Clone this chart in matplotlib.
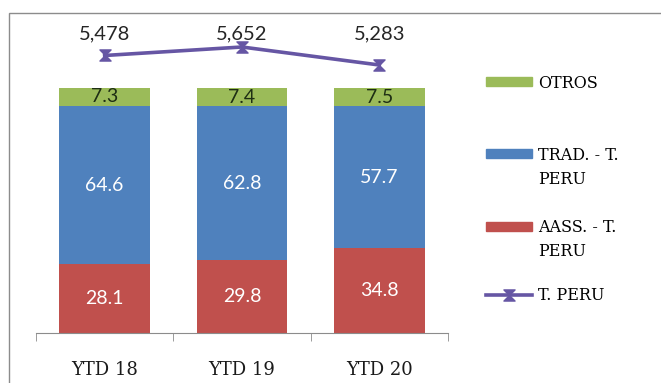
import matplotlib.pyplot as plt
import numpy as np
from matplotlib.patches import Patch, Rectangle
from matplotlib.lines import Line2D
from matplotlib.path import Path

categories = ["YTD 18", "YTD 19", "YTD 20"]
aass = [28.1, 29.8, 34.8]     # AASS. - T. PERU (%)
trad = [64.6, 62.8, 57.7]     # TRAD. - T. PERU (%)
otros = [7.3, 7.4, 7.5]       # OTROS (%)
total = [5478, 5652, 5283]    # T. PERU

green = "#9BBB59"
blue = "#4F81BD"
red = "#C0504D"
purple = "#6656A4"

serif = "DejaVu Serif"
sans = "Lato"

# hourglass marker for the total line
hourglass = Path([(-1, 1), (1, 1), (-1, -1), (1, -1), (-1, 1)],
                 [Path.MOVETO, Path.LINETO, Path.LINETO, Path.LINETO, Path.CLOSEPOLY])

fig = plt.figure(figsize=(6.61, 3.83), dpi=100)
ax = fig.add_axes([36 / 661, 50 / 383, 412 / 661, 320 / 383])

x = np.arange(len(categories))
w = 0.66
ax.bar(x, aass, w, color=red)
ax.bar(x, trad, w, bottom=aass, color=blue)
bottom3 = np.array(aass) + np.array(trad)
ax.bar(x, otros, w, bottom=bottom3, color=green)

for i in range(len(x)):
    ax.text(x[i], aass[i] / 2, f"{aass[i]:.1f}", ha="center", va="center",
            color="white", fontsize=14, family=sans)
    ax.text(x[i], aass[i] + trad[i] / 2, f"{trad[i]:.1f}", ha="center", va="center",
            color="white", fontsize=14, family=sans)
    ax.text(x[i], bottom3[i] + otros[i] / 2, f"{otros[i]:.1f}", ha="center", va="center",
            color="#1E2E14", fontsize=14, family=sans)

ax.set_xlim(-0.5, 2.5)
ax.set_ylim(0, 130.6)
for s in ["top", "right", "left"]:
    ax.spines[s].set_visible(False)
ax.spines["bottom"].set_color("#8C8C8C")
ax.set_yticks([])
ax.set_xticks(x)
ax.set_xticklabels(categories, fontsize=13, family=serif, color="#1A1A1A")
ax.tick_params(axis="x", length=0, pad=20)
ax.set_xticks([-0.5, 0.5, 1.5, 2.5], minor=True)
ax.tick_params(axis="x", which="minor", length=6, color="#8C8C8C", direction="out")

# total on its own hidden scale
ax2 = ax.twinx()
ax2.plot(x, total, color=purple, lw=2.6, marker=hourglass, markersize=8,
         markerfacecolor=purple, markeredgecolor=purple)
ax2.set_ylim(-211, 6349)
ax2.axis("off")
for i in range(len(x)):
    ax2.text(x[i], 5915, f"{total[i]:,}", ha="center", va="center",
             fontsize=14.5, family=sans, color="#262626")

# chart frame
fig.patches.append(Rectangle((9 / 661, -0.1), 1.2, 1 - 13 / 383 + 0.1,
                             transform=fig.transFigure, fill=False,
                             edgecolor="#8C8C8C", lw=1))

# legend: one entry per block, wrapped labels continue under the text
handles = [Patch(color=green), Patch(color=blue), Patch(color=red),
           Line2D([], [], color=purple, lw=2.6, marker=hourglass, markersize=8)]
labels = ["OTROS", "TRAD. - T.", "AASS. - T.", "T. PERU"]
second = ["", "PERU", "PERU", ""]
ycent = [83, 155, 228, 296]
for h, l, l2, yc in zip(handles, labels, second, ycent):
    leg = fig.legend([h], [l], loc="center left", bbox_to_anchor=(486 / 661, 1 - yc / 383),
                     frameon=False, borderpad=0, borderaxespad=0, handlelength=2.9,
                     handleheight=0.5, handletextpad=0.35,
                     prop={"family": serif, "size": 11.5})
    if l2:
        fig.text(538 / 661, 1 - (yc + 24) / 383, l2, ha="left", va="center",
                 family=serif, fontsize=11.5)

fig.savefig("out.png", dpi=100)
